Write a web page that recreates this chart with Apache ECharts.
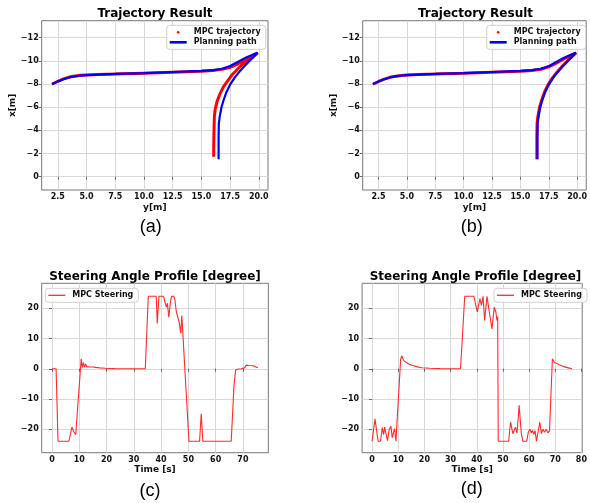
<!DOCTYPE html>
<html>
<head>
<meta charset="utf-8">
<script src="https://cdn.jsdelivr.net/npm/echarts@6/dist/echarts.min.js"></script>
<style>
html,body{margin:0;padding:0;background:#fff;}
#chart{width:590px;height:503px;}
</style>
</head>
<body>
<div id="chart"></div>
<script>
// ---------- Trajectory data: horizontal = y[m], vertical = x[m] ----------
const planY = [2.0, 2.5, 3.0, 3.5, 4.0, 4.5, 5.0, 6.0, 7.5, 10.0, 12.5, 15.0, 16.0, 16.8, 17.5, 18.2, 18.9, 19.4, 19.9,
               19.4, 18.76, 18.3, 17.9, 17.5, 17.18, 16.93, 16.75, 16.6, 16.52, 16.5, 16.5, 16.5];
const planX = [-8.0, -8.22, -8.42, -8.57, -8.67, -8.73, -8.77, -8.82, -8.87, -8.95, -9.04, -9.13, -9.2, -9.32, -9.55, -9.92, -10.3, -10.5, -10.7,
               -10.2, -9.56, -9.05, -8.55, -7.95, -7.3, -6.6, -6.0, -5.2, -4.6, -3.5, -2.5, -1.5];

const mpcAY = [2.0, 2.5, 3.0, 3.5, 4.0, 4.5, 5.0, 6.0, 7.5, 10.0, 12.5, 15.0, 16.0, 16.8, 17.5, 18.2, 18.9, 19.4, 19.9,
               19.2, 18.52, 17.65, 16.93, 16.6, 16.36, 16.2, 16.13, 16.1, 16.08, 16.07];
const mpcAX = [-7.98, -8.24, -8.45, -8.6, -8.69, -8.75, -8.78, -8.82, -8.86, -8.94, -9.02, -9.1, -9.16, -9.28, -9.45, -9.75, -10.12, -10.4, -10.7,
               -10.1, -9.65, -8.78, -7.77, -7.1, -6.48, -5.8, -5.18, -4.0, -3.0, -1.73];

const mpcBY = [2.0, 2.5, 3.0, 3.5, 4.0, 4.5, 5.0, 6.0, 7.5, 10.0, 12.5, 15.0, 16.0, 16.8, 17.5, 18.2, 18.9, 19.4, 19.9,
               19.35, 18.7, 18.24, 17.84, 17.44, 17.12, 16.87, 16.69, 16.54, 16.47, 16.45, 16.45, 16.45];
const mpcBX = [-7.98, -8.22, -8.43, -8.58, -8.68, -8.74, -8.78, -8.83, -8.87, -8.94, -9.02, -9.1, -9.17, -9.28, -9.48, -9.82, -10.22, -10.45, -10.7,
               -10.2, -9.56, -9.05, -8.55, -7.95, -7.3, -6.6, -6.0, -5.2, -4.6, -3.5, -2.5, -1.5];

const trajXTicks = [2.5, 5.0, 7.5, 10.0, 12.5, 15.0, 17.5, 20.0];
const trajYTicks = [-12, -10, -8, -6, -4, -2, 0];

// ---------- Steering data ----------
const timeC = [0, 1.5, 2.2, 6.2, 7.3, 7.9, 8.7, 10.7, 11.1, 11.5, 11.9, 12.3, 12.7, 13.2, 13.7, 14.3, 15, 16, 17.5, 19.5, 23, 28,
               34.2, 35.3, 38.2, 38.6, 39.2, 40.9, 41.9, 42.3, 42.8, 43.4, 43.8, 44.6, 45.0, 45.6, 46.1, 46.6, 47.2, 47.6,
               50.2, 54.1, 54.7, 55.3, 65.7, 66.7, 67.3, 68.2, 69.4, 70.6, 71.2, 72.2, 72.8, 73.7, 75.5];
const steerC = [0, 0, -24, -24, -19.3, -20.7, -21.8, 3.3, 0.4, 2.0, 0.6, 1.6, 0.7, 1.2, 0.6, 0.9, 0.6, 0.45, 0.3, 0.15, 0.05, 0,
                0, 24, 24, 15, 24, 24, 20.4, 21.7, 17.1, 22, 24, 24, 23.2, 18.8, 18.2, 15.5, 11.8, 17.6,
                -24, -24, -14.9, -24, -24, -6, -0.4, -0.1, 0, 0.3, 1.2, 1.1, 1.4, 1.0, 0.3];

const timeD = [0, 0.6, 1.1, 1.7, 2.3, 3.2, 3.9, 4.4, 4.8, 5.3, 5.9, 6.5, 7.2, 7.7, 8.2, 8.6, 9.1, 10.9, 11.3, 12.1,
               13, 14, 15.5, 17, 19, 22, 26, 30, 33.8, 35.4, 38.9, 40.2, 41.2, 41.8, 42.4, 43.0, 43.9, 44.7, 45.8, 46.7,
               47.3, 47.7, 48.0, 48.2, 52.2, 52.9, 53.8, 54.8, 55.4, 56.2, 57.0, 57.6, 59.1, 59.7, 60.3, 60.9, 61.3, 61.8, 62.3, 62.8,
               63.4, 64.1, 64.7, 65.3, 65.9, 66.5, 67.2, 67.8, 68.9, 69.6, 71.5, 73.3, 75, 76.4];
const steerD = [-24, -24, -16.6, -16.8, -24, -24, -19.5, -21.8, -19.3, -21.5, -23.8, -20.2, -19, -22.8, -21, -19.8, -24, 3.0, 4.3, 2.7,
                2.1, 1.6, 1.1, 0.7, 0.35, 0.15, 0.05, 0, 0, 24, 24, 18.8, 23.2, 21, 24, 16, 24, 19.3, 13.2, 20.4,
                18.8, 16, 17.2, -24, -24, -17.7, -21.5, -19.3, -21.3, -12.1, -21.3, -24, -24, -21, -20, -21.3, -20.4, -21.7, -20.5, -24,
                -24, -17.7, -21.5, -20, -21, -20, -21.3, -20.5, 3.3, 2.2, 1.3, 0.7, 0.3, 0];

const timeTicksC = [0, 10, 20, 30, 40, 50, 60, 70];
const timeTicksD = [0, 10, 20, 30, 40, 50, 60, 70, 80];
const steerTicks = [-20, -10, 0, 10, 20];

// ---------- helpers ----------
const zip = (a, b) => a.map((v, i) => [v, b[i]]);
const FONT = '"DejaVu Sans", sans-serif';
const minus = v => String(v).replace('-', '\u2212');
const GRID_COLOR = '#d8d8d8';
const BORDER = '#777';

function xAx(gi, min, max, ticks, fmt, name, nameGap) {
  return {
    type: 'value', gridIndex: gi, min: min, max: max,
    name: name, nameLocation: 'middle', nameGap: nameGap,
    nameTextStyle: {fontFamily: FONT, fontWeight: 'bold', fontSize: 9, color: '#111'},
    axisLine: {show: false},
    axisTick: {show: true, length: 3, customValues: ticks, lineStyle: {color: '#666'}},
    axisLabel: {customValues: ticks, formatter: fmt, margin: 3, fontFamily: FONT, fontWeight: 'bold', fontSize: 8, color: '#111'},
    splitLine: {show: true, lineStyle: {color: GRID_COLOR, width: 1}}
  };
}
function yAx(gi, min, max, ticks, inverse, name, nameGap) {
  return {
    type: 'value', gridIndex: gi, min: min, max: max, inverse: inverse,
    name: name, nameLocation: 'middle', nameGap: nameGap,
    nameTextStyle: {fontFamily: FONT, fontWeight: 'bold', fontSize: 9, color: '#111'},
    axisLine: {show: false},
    axisTick: {show: true, length: 3, customValues: ticks, lineStyle: {color: '#666'}},
    axisLabel: {customValues: ticks, formatter: minus, margin: 3, fontFamily: FONT, fontWeight: 'bold', fontSize: 8, color: '#111'},
    splitLine: {show: true, lineStyle: {color: GRID_COLOR, width: 1}}
  };
}
function legend(left, top, items, itemHeight) {
  return {
    orient: 'vertical', left: left, top: top, data: items,
    itemWidth: 17, itemHeight: itemHeight, itemGap: 2,
    padding: [3, 5, 3, 3],
    borderColor: '#d0d0d0', borderWidth: 1, borderRadius: 3,
    backgroundColor: 'rgba(255,255,255,0.85)',
    itemStyle: {borderWidth: 0},
    selectedMode: false,
    textStyle: {fontFamily: FONT, fontWeight: 'bold', fontSize: 8, color: '#111', padding: [0, 0, 0, 2]}
  };
}
function text(x, y, str, font) {
  return {type: 'text', x: x, y: y, silent: true,
    style: {text: str, font: font, fill: '#000', align: 'center', verticalAlign: 'middle'}};
}
const TITLE_FONT = 'bold 12px "DejaVu Sans", sans-serif';
const CAP_FONT = '18px "Liberation Sans", Arial, sans-serif';

const chart = echarts.init(document.getElementById('chart'), null, {renderer: 'canvas'});
const gridBase = {show: true, borderColor: BORDER, borderWidth: 1, backgroundColor: 'transparent', containLabel: false};

chart.setOption({
  animation: false,
  backgroundColor: '#fff',
  grid: [
    Object.assign({left: 41.7, top: 20.7, width: 226.3, height: 169.3}, gridBase),
    Object.assign({left: 362.7, top: 20.7, width: 226, height: 169.3}, gridBase),
    Object.assign({left: 41.7, top: 283.3, width: 226.6, height: 169.4}, gridBase),
    Object.assign({left: 362.1, top: 283.3, width: 226.7, height: 169.4}, gridBase)
  ],
  xAxis: [
    xAx(0, 1.1, 20.8, trajXTicks, v => v.toFixed(1), 'y[m]', 13),
    xAx(1, 1.1, 20.8, trajXTicks, v => v.toFixed(1), 'y[m]', 13),
    xAx(2, -3.78, 79.3, timeTicksC, v => String(v), 'Time [s]', 12),
    xAx(3, -3.82, 80.3, timeTicksD, v => String(v), 'Time [s]', 12)
  ],
  yAxis: [
    yAx(0, -13.47, 1.15, trajYTicks, true, 'x[m]', 22),
    yAx(1, -13.47, 1.15, trajYTicks, true, 'x[m]', 22),
    yAx(2, -27.8, 28.3, steerTicks, false, '', 20),
    yAx(3, -27.8, 28.3, steerTicks, false, '', 20)
  ],
  legend: [
    legend(166.7, 25.3, [{name: 'MPC trajectory', icon: 'circle'}, {name: 'Planning path', icon: 'rect'}], 2.6),
    legend(486.7, 25.3, [{name: 'MPC trajectory', icon: 'circle'}, {name: 'Planning path', icon: 'rect'}], 2.6),
    legend(45.3, 288.3, [{name: 'MPC Steering', icon: 'rect'}], 1.3),
    legend(494, 288.3, [{name: 'MPC Steering', icon: 'rect'}], 1.3)
  ],
  series: [
    {name: 'MPC trajectory', type: 'line', xAxisIndex: 0, yAxisIndex: 0, data: zip(mpcAY, mpcAX),
     showSymbol: false, color: '#ff0000', lineStyle: {color: '#ff0000', width: 3}, z: 2, silent: true},
    {name: 'Planning path', type: 'line', xAxisIndex: 0, yAxisIndex: 0, data: zip(planY, planX),
     showSymbol: false, color: '#0000ff', lineStyle: {color: '#0000ff', width: 2.2}, z: 3, silent: true},
    {name: 'MPC trajectory', type: 'line', xAxisIndex: 1, yAxisIndex: 1, data: zip(mpcBY, mpcBX),
     showSymbol: false, color: '#ff0000', lineStyle: {color: '#ff0000', width: 3}, z: 2, silent: true},
    {name: 'Planning path', type: 'line', xAxisIndex: 1, yAxisIndex: 1, data: zip(planY, planX),
     showSymbol: false, color: '#0000ff', lineStyle: {color: '#0000ff', width: 2.2}, z: 3, silent: true},
    {name: 'MPC Steering', type: 'line', xAxisIndex: 2, yAxisIndex: 2, data: zip(timeC, steerC),
     showSymbol: false, color: '#ff2a2a', lineStyle: {color: '#ff2a2a', width: 1.1}, silent: true},
    {name: 'MPC Steering', type: 'line', xAxisIndex: 3, yAxisIndex: 3, data: zip(timeD, steerD),
     showSymbol: false, color: '#ff2a2a', lineStyle: {color: '#ff2a2a', width: 1.1}, silent: true}
  ],
  graphic: [
    text(155, 14, 'Trajectory Result', TITLE_FONT),
    text(475.5, 14, 'Trajectory Result', TITLE_FONT),
    text(155, 276.7, 'Steering Angle Profile [degree]', TITLE_FONT),
    text(475.5, 276.7, 'Steering Angle Profile [degree]', TITLE_FONT),
    text(150.8, 226.7, '(a)', CAP_FONT),
    text(471.7, 227, '(b)', CAP_FONT),
    text(150, 490.7, '(c)', CAP_FONT),
    text(471.7, 489.3, '(d)', CAP_FONT)
  ]
});
</script>
</body>
</html>
